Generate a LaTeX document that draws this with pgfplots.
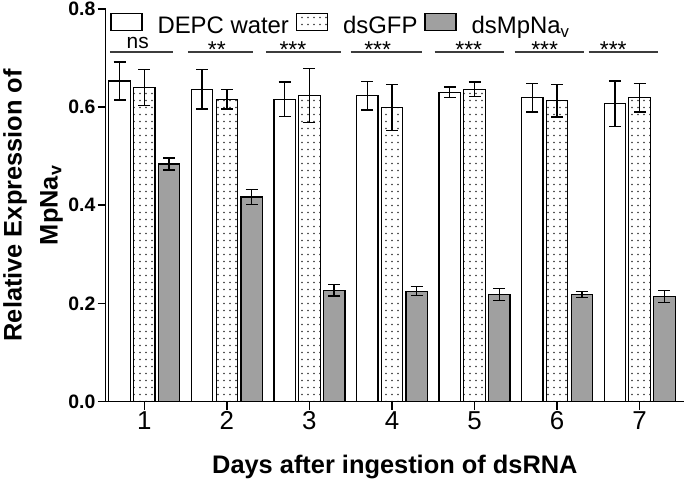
\documentclass[border=0pt]{standalone}
\usepackage{pgfplots}
\pgfplotsset{compat=1.18}
\usepackage{pgfplotstable}
\usetikzlibrary{patterns.meta}
\usepackage{fontspec}
\setmainfont{Liberation Sans}

\definecolor{barGray}{RGB}{160,160,160}
\definecolor{dotGray}{RGB}{50,50,50}
\definecolor{sigLine}{RGB}{60,60,60}

\tikzdeclarepattern{
  name=sparsedots,
  type=uncolored,
  bottom left={(0bp,0bp)},
  top right={(6bp,7bp)},
  tile size={(6bp,7bp)},
  code={\fill (3bp,3.5bp) circle (0.8bp);}
}

\pgfplotsset{
  mybar/.style={ybar, bar width=0.26, bar shift=0, draw=black, line width=1.2bp,
    error bars/y dir=both, error bars/y explicit,
    error bars/error bar style={line width=1.4bp, black},
    error bars/error mark options={rotate=90, line width=1.4bp, black, mark size=6bp},
    legend image code/.code={\draw[##1] (0bp,-5bp) rectangle (31bp,12bp);}},
}

% day, mean and error of each treatment
\pgfplotstableread{
day white whiteerr dots dotserr gray grayerr
1 0.653 0.039 0.640 0.037 0.484 0.012
2 0.636 0.040 0.616 0.020 0.417 0.015
3 0.616 0.035 0.623 0.055 0.227 0.012
4 0.623 0.029 0.599 0.047 0.225 0.009
5 0.630 0.011 0.636 0.015 0.218 0.012
6 0.619 0.029 0.613 0.033 0.218 0.006
7 0.607 0.046 0.619 0.029 0.214 0.012
}\expdata

\begin{document}
\begin{tikzpicture}
\begin{axis}[
    scale only axis,
    width=579bp, height=393bp,
    xmin=0.53, xmax=7.54,
    ymin=0, ymax=0.8,
    axis lines=left,
    axis line style={-, line width=1.6bp},
    tick align=outside,
    major tick length=8bp,
    tick style={line width=1.6bp, black},
    xtick={1,2,3,4,5,6,7},
    ytick={0,0.2,0.4,0.6,0.8},
    /pgf/number format/assume math mode=true,
    yticklabel style={/pgf/number format/fixed, /pgf/number format/fixed zerofill,
        /pgf/number format/precision=1, font=\fontsize{19.5}{22}\selectfont\bfseries, inner sep=2bp},
    xticklabel style={font=\fontsize{26}{30}\selectfont, inner sep=2bp},
    xlabel={Days after ingestion of dsRNA},
    ylabel={Relative Expression of\\MpNa\textsubscript{v}},
    label style={font=\fontsize{25.5}{36}\selectfont\bfseries, align=center},
    xlabel style={yshift=-19bp},
    legend columns=3,
    legend style={draw=none, fill=none, at={(0.008,0.99)}, anchor=north west,
        inner sep=0pt, font=\fontsize{24}{28}\selectfont,
        /tikz/every odd column/.append style={column sep=13bp},
        /tikz/every even column/.append style={column sep=5bp}},
    clip=false,
]
\addplot[mybar, fill=white]
    table[x expr=\thisrow{day}-0.30, y=white, y error=whiteerr]{\expdata};
\addlegendentry{DEPC water}
\addplot[mybar, pattern=sparsedots, pattern color=dotGray]
    table[x=day, y=dots, y error=dotserr]{\expdata};
\addlegendentry{dsGFP}
\addplot[mybar, fill=barGray]
    table[x expr=\thisrow{day}+0.30, y=gray, y error=grayerr]{\expdata};
\addlegendentry{dsMpNa\textsubscript{v}}

% significance brackets
\begin{scope}[line width=1.5bp, sigLine]
\draw (axis cs:0.582,0.7125) -- (axis cs:1.345,0.7125);
\draw (axis cs:1.527,0.7125) -- (axis cs:2.314,0.7125);
\draw (axis cs:2.471,0.7125) -- (axis cs:3.379,0.7125);
\draw (axis cs:3.500,0.7125) -- (axis cs:4.360,0.7125);
\draw (axis cs:4.517,0.7125) -- (axis cs:5.352,0.7125);
\draw (axis cs:5.486,0.7125) -- (axis cs:6.321,0.7125);
\draw (axis cs:6.381,0.7125) -- (axis cs:7.217,0.7125);
\end{scope}
\node[anchor=base, inner sep=0pt, font=\fontsize{21}{24}\selectfont] at (axis cs:0.92,0.7186) {ns};
\begin{scope}[font=\fontsize{23}{25}\selectfont, inner sep=0pt]
\node[anchor=base] at (axis cs:1.878,0.701) {**};
\node[anchor=base] at (axis cs:2.80,0.701) {***};
\node[anchor=base] at (axis cs:3.827,0.701) {***};
\node[anchor=base] at (axis cs:4.93,0.701) {***};
\node[anchor=base] at (axis cs:5.85,0.701) {***};
\node[anchor=base] at (axis cs:6.68,0.701) {***};
\end{scope}
\end{axis}
\end{tikzpicture}
\end{document}
